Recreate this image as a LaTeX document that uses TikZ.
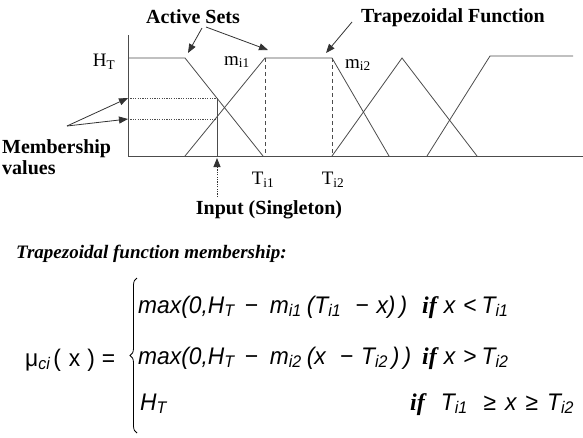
\documentclass[tikz,border=0pt]{standalone}
\usepackage{fontspec}
\setmainfont{Liberation Serif}
\newfontfamily\eqfont[FakeStretch=0.95]{Liberation Sans}
\usetikzlibrary{arrows.meta, decorations.pathreplacing}
\newcommand{\sub}[1]{\textsubscript{#1}}
\newcommand{\ifword}{{\rmfamily\bfseries\itshape if}}

\begin{document}
\begin{tikzpicture}[x=1pt, y=-1pt,
  setline/.style={draw=black!70, line width=0.8pt},
  guide/.style={draw=black!70, line width=0.7pt, dash pattern=on 1.2pt off 1.2pt},
  dashline/.style={draw=black!70, line width=0.8pt, dash pattern=on 4pt off 3pt},
  pointer/.style={-{Triangle[length=9pt,width=7pt]}, draw=black!80, line width=0.8pt},
  tag/.style={font=\fontsize{20}{21}\selectfont\bfseries, inner sep=0pt, align=left},
  axlabel/.style={font=\fontsize{19}{22}\selectfont, inner sep=0pt},
  eq/.style={font=\fontsize{24}{28}\selectfont\eqfont\itshape, inner sep=0pt, anchor=base west}
]
  \useasboundingbox (0,0) rectangle (583,437);

  \coordinate (top) at (128,35);
  \coordinate (origin) at (128,156);
  \coordinate (xend) at (583,156);
  \coordinate (hA) at (128,58);
  \coordinate (kA) at (185,58);
  \coordinate (eA) at (263,156);
  \coordinate (sB) at (185,156);
  \coordinate (m1) at (265,58);
  \coordinate (m2) at (332,58);
  \coordinate (eB) at (389,156);
  \coordinate (t1) at (265,156);
  \coordinate (t2) at (332,156);
  \coordinate (pC) at (402,58);
  \coordinate (eC) at (477,156);
  \coordinate (sD) at (427,156);
  \coordinate (kD) at (490,56);
  \coordinate (eD) at (573,56);
  \coordinate (inTop) at (217,98);
  \coordinate (inBase) at (217,156);
  \coordinate (inTip) at (217,158);
  \coordinate (inFoot) at (217,197);
  \coordinate (mu1) at (128,98);
  \coordinate (mu2) at (128,119);
  \coordinate (mu2end) at (217,119);
  \coordinate (memTail) at (67,126);
  \coordinate (actTailL) at (202,28);
  \coordinate (actTailR) at (206,27);
  \coordinate (actTipL) at (188,53);
  \coordinate (actTipR) at (268,50);
  \coordinate (trapTail) at (352,22);
  \coordinate (trapTip) at (326,53);

  \draw[setline] (top) -- (origin) -- (xend);
  \draw[setline] (hA) -- (kA) -- (eA);
  \draw[setline] (sB) -- (m1) -- (m2) -- (eB);
  \draw[setline] (t2) -- (pC) -- (eC);
  \draw[setline] (sD) -- (kD) -- (eD);
  \draw[dashline] (m1) -- (t1);
  \draw[dashline] (m2) -- (t2);
  \draw[guide] (mu1) -- (inTop);
  \draw[guide] (mu2) -- (mu2end);
  \draw[setline] (inTop) -- (inBase);
  \draw[pointer, dash pattern=on 1.2pt off 1.2pt] (inFoot) -- (inTip);
  \draw[pointer] (memTail) -- (mu1);
  \draw[pointer] (memTail) -- (mu2);
  \draw[pointer] (actTailL) -- (actTipL);
  \draw[pointer] (actTailR) -- (actTipR);
  \draw[pointer] (trapTail) -- (trapTip);

  \node[tag] (active) at (193,17) {Active Sets};
  \node[tag] (trapfn) at (453,18) {Trapezoidal Function};
  \node[tag] (input) at (269,210) {Input (Singleton)};
  \node[tag, anchor=west] (members) at (2,157) {Membership\\values};

  \node[axlabel] (ht) at (104,62) {H\sub{T}};
  \node[axlabel] (mi1) at (237,62) {m\sub{i1}};
  \node[axlabel] (mi2) at (358,65) {m\sub{i2}};
  \node[axlabel] (ti1) at (263,180) {T\sub{i1}};
  \node[axlabel] (ti2) at (333,180) {T\sub{i2}};

  \node[font=\fontsize{19}{22}\selectfont\bfseries\itshape, inner sep=0pt, anchor=west] (title) at (16,254) {Trapezoidal function membership:};

  \node[eq] (mu) at (25,366) {\upshape μ\sub{\itshape ci}\hspace{3pt}(\hspace{8pt}x\hspace{7pt})\hspace{7pt}=};
  \draw[line width=0.8pt, decorate, decoration={brace, amplitude=7pt}] (137,433) -- (137,278);
  \node[eq] (row1) at (138,313) {max(0,H\sub{T}\hspace{10pt}−\hspace{12pt}m\sub{i1}\hspace{5pt}(T\sub{i1}\hspace{14pt}−\hspace{8pt}x)\hspace{4pt})};
  \node[eq] (cond1) at (422,313) {\ifword\hspace{7pt}x\hspace{8pt}<\hspace{5pt}T\sub{i1}};
  \node[eq] (row2) at (138,364) {max(0,H\sub{T}\hspace{10pt}−\hspace{12pt}m\sub{i2}\hspace{5pt}(x\hspace{14pt}−\hspace{8pt}T\sub{i2}\hspace{4pt})\hspace{4pt})};
  \node[eq] (cond2) at (422,364) {\ifword\hspace{7pt}x\hspace{8pt}>\hspace{5pt}T\sub{i2}};
  \node[eq] (row3) at (140,410) {H\sub{T}};
  \node[eq] (cond3) at (410,410) {\ifword\hspace{16pt}T\sub{i1}\hspace{16pt}≥\hspace{9pt}x\hspace{9pt}≥\hspace{9pt}T\sub{i2}};
\end{tikzpicture}
\end{document}
